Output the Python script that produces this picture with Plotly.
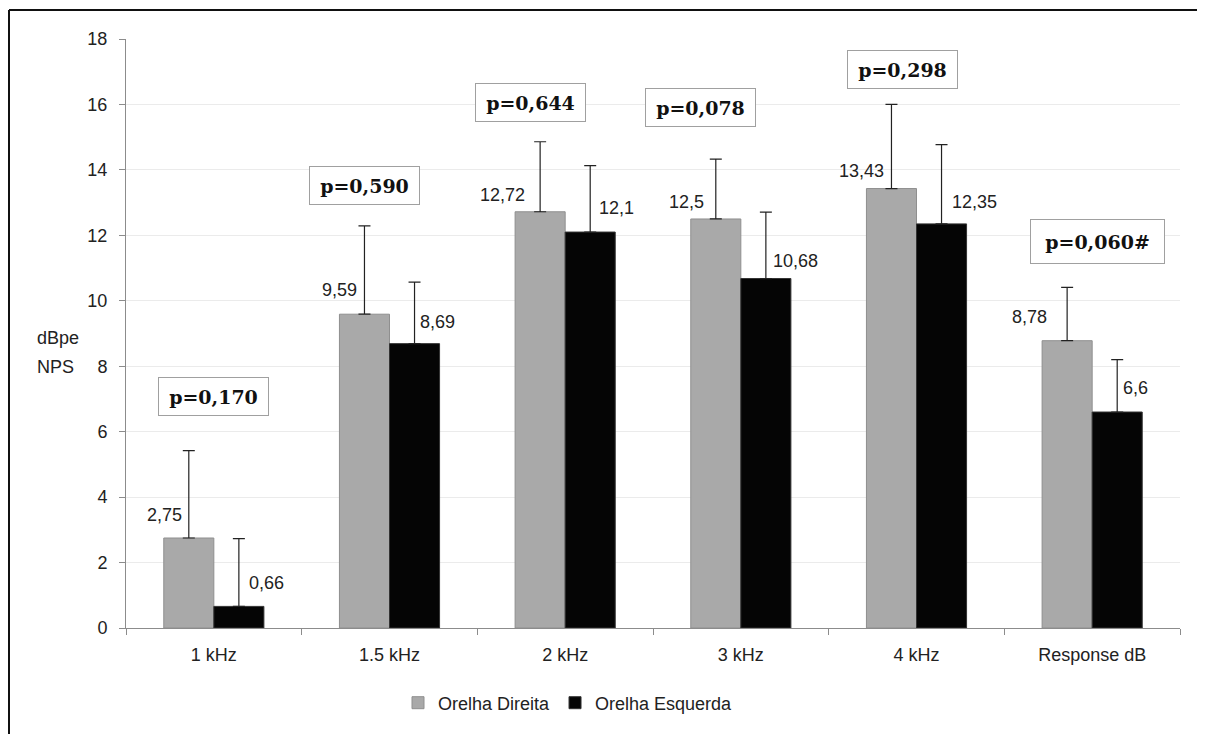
import plotly.graph_objects as go

categories = ["1 kHz", "1.5 kHz", "2 kHz", "3 kHz", "4 kHz", "Response dB"]
direita = [2.75, 9.59, 12.72, 12.5, 13.43, 8.78]
esquerda = [0.66, 8.69, 12.1, 10.68, 12.35, 6.6]
direita_err = [2.67, 2.70, 2.14, 1.83, 2.57, 1.63]
esquerda_err = [2.07, 1.88, 2.03, 2.03, 2.42, 1.60]
direita_lbl = ["2,75", "9,59", "12,72", "12,5", "13,43", "8,78"]
esquerda_lbl = ["0,66", "8,69", "12,1", "10,68", "12,35", "6,6"]
p_values = ["p=0,170", "p=0,590", "p=0,644", "p=0,078", "p=0,298", "p=0,060#"]

# layout helpers (positions, not data)
p_pos_x = [0.0, -0.14, -0.2, -0.23, -0.08, 0.03]   # offset in category units
p_pos_y = [7.06, 13.53, 16.05, 15.9, 17.06, 11.8]
p_box_w = [101, 101, 101, 101, 101, 125]
p_box_h = [29, 29, 29, 29, 29, 35]
gray_dx = [-5, -6, -13, -10, -6, -18]
gray_dy = [23, 24, 17, 17, 18, 24]
black_dx = [8, 3, 7, 5, 8, 4]
black_dy = [23, 22, 24, 18, 22, 24]

FONT = "Liberation Sans, Arial, sans-serif"

fig = go.Figure()
fig.add_trace(go.Bar(
    name="Orelha Direita", x=categories, y=direita,
    marker=dict(color="#a9a9a9", line=dict(color="#8f8f8f", width=1)),
    error_y=dict(type="data", array=direita_err, symmetric=False, arrayminus=[0]*6,
                 color="#222222", thickness=1.2, width=6),
))
fig.add_trace(go.Bar(
    name="Orelha Esquerda", x=categories, y=esquerda,
    marker=dict(color="#050505", line=dict(color="#333333", width=1)),
    error_y=dict(type="data", array=esquerda_err, symmetric=False, arrayminus=[0]*6,
                 color="#222222", thickness=1.2, width=6),
))

annotations = []
half = 25 / 175.7
for i in range(len(categories)):
    annotations.append(dict(x=i - half, y=direita[i], xref="x", yref="y",
                            text=direita_lbl[i], showarrow=False, xanchor="right",
                            yanchor="middle", xshift=gray_dx[i], yshift=gray_dy[i],
                            font=dict(family=FONT, size=18, color="#222222")))
    annotations.append(dict(x=i + half, y=esquerda[i], xref="x", yref="y",
                            text=esquerda_lbl[i], showarrow=False, xanchor="left",
                            yanchor="middle", xshift=black_dx[i], yshift=black_dy[i],
                            font=dict(family=FONT, size=18, color="#222222")))
    annotations.append(dict(x=i + p_pos_x[i], y=p_pos_y[i], xref="x", yref="y",
                            text="<b>" + p_values[i] + "</b>", showarrow=False,
                            xanchor="center", yanchor="middle", align="center",
                            valign="middle", width=p_box_w[i], height=p_box_h[i],
                            bordercolor="#a0a0a0", borderwidth=1, borderpad=4,
                            bgcolor="white",
                            font=dict(family="DejaVu Serif", size=19, color="#111111")))

W0, PW, PH = 126, 1054, 589
def px(x): return (x - W0) / PW
def py(y): return (628 - y) / PH

annotations.append(dict(x=px(35), y=py(338), xref="paper", yref="paper",
                        text="dBpe", showarrow=False, xanchor="left", yanchor="middle",
                        font=dict(family=FONT, size=18, color="#222222")))
annotations.append(dict(x=px(35), y=py(367), xref="paper", yref="paper",
                        text="NPS", showarrow=False, xanchor="left", yanchor="middle",
                        font=dict(family=FONT, size=18, color="#222222")))

# page body has an 8px margin, so the figure is sized and offset to compensate
fig.update_layout(
    width=1197, height=726,
    margin=dict(l=118, r=25, t=31, b=106),
    paper_bgcolor="white", plot_bgcolor="white",
    barmode="group", bargap=0.43, bargroupgap=0,
    font=dict(family=FONT, size=18, color="#222222"),
    showlegend=True,
    legend=dict(orientation="h", x=px(398), xanchor="left", y=py(703), yanchor="middle",
                font=dict(family=FONT, size=18, color="#222222"),
                itemwidth=30, traceorder="normal", tracegroupgap=0),
    annotations=annotations,
    shapes=[
        dict(type="line", xref="paper", yref="paper", x0=px(9), x1=px(9),
             y0=py(760), y1=py(10), line=dict(color="#111111", width=2)),
        dict(type="line", xref="paper", yref="paper", x0=px(9), x1=px(1230),
             y0=py(10), y1=py(10), line=dict(color="#111111", width=2)),
    ],
)
fig.update_xaxes(type="category", showline=True, linecolor="#8c8c8c", linewidth=1,
                 ticks="outside", ticklen=6, tickcolor="#8c8c8c", tickson="boundaries",
                 showgrid=False, ticklabelstandoff=10,
                 tickfont=dict(family=FONT, size=18, color="#222222"))
fig.update_yaxes(range=[0, 18], dtick=2, showline=True, linecolor="#8c8c8c", linewidth=1,
                 ticks="outside", ticklen=6, tickcolor="#8c8c8c",
                 showgrid=True, gridcolor="#ebebeb", gridwidth=1, zeroline=False,
                 ticklabelstandoff=8,
                 tickfont=dict(family=FONT, size=18, color="#222222"))

fig.write_html("out.html")
